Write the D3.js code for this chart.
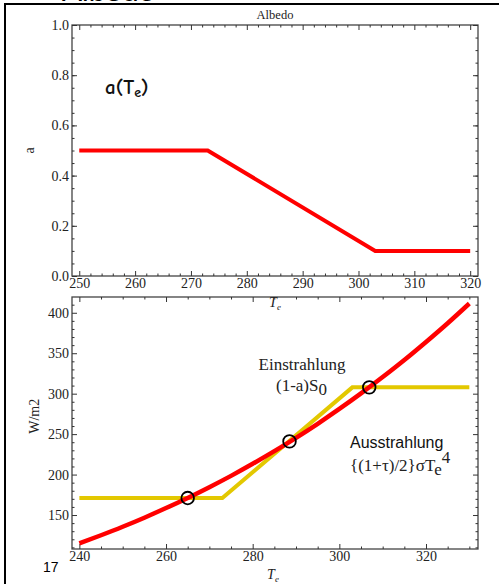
<!doctype html>
<html>
  <head>
    <meta charset="utf-8"/>
    <style>
      body { margin: 0; background: #fff; }
      svg { display: block; }
      .domain { stroke: none; }
      .tick line { stroke: #333; }
    </style>
  </head>
  <body>
    <script src="https://cdn.jsdelivr.net/npm/d3@7/dist/d3.min.js"></script>
    <script>
      // albedo panel
      const albedoT = [250, 273, 303, 320];
      const albedoA = [0.5, 0.5, 0.1, 0.1];
      const albedoXTicks = [250, 260, 270, 280, 290, 300, 310, 320];
      const albedoYTicks = [0.0, 0.2, 0.4, 0.6, 0.8, 1.0];

      // energy balance panel
      const tempT = [240, 245, 250, 255, 260, 265, 270, 275, 280, 285, 290, 295, 300, 305, 310, 315, 320, 325, 330];
      const outW = [115, 125, 135.5, 146.7, 158.6, 171.1, 184.4, 198.4, 213.3, 228.9, 245.4, 262.8, 281.1, 300.3, 320.5, 341.6, 363.9, 387.1, 411.5];
      const inT = [240, 273, 303, 330];
      const inW = [171, 171, 307.8, 307.8];
      const crossT = [265, 288.5, 306.9];
      const crossW = [171, 241, 307.8];
      const energyXTicks = [240, 260, 280, 300, 320];
      const energyYTicks = [150, 200, 250, 300, 350, 400];

      const serif = "'Liberation Serif', 'Times New Roman', Times, serif";
      const sans = "'Liberation Sans', Arial, sans-serif";

      const W = 499, H = 584;
      const svg = d3.select('body').append('svg')
            .attr('width', W).attr('height', H);

      // slide frame and clipped heading above it
      svg.append('text')
        .attr('x', 62).attr('y', 0.5)
        .style('font-family', sans)
        .style('font-size', '30px')
        .attr('fill', '#000')
        .text('Albedo');
      svg.append('path')
        .attr('d', 'M5,' + H + 'V4H' + W)
        .attr('fill', 'none').attr('stroke', '#000').attr('stroke-width', 2);

      const left = 72, right = 478;

      function styleLabels(sel) {
        sel.selectAll('text')
          .style('font-family', serif)
          .style('font-size', '14px')
          .attr('fill', '#222');
      }

      function frame(g, x, y, xMajor, xMinor, yMajor, yMinor, xFmt, yFmt) {
        const [y0, y1] = y.range();
        const [x0, x1] = x.range();
        g.append('rect')
          .attr('x', x0).attr('y', y1)
          .attr('width', x1 - x0).attr('height', y0 - y1)
          .attr('fill', 'none').attr('stroke', '#444').attr('stroke-width', 1.3);
        // labelled axes
        g.append('g').attr('transform', `translate(0,${y0})`)
          .call(d3.axisBottom(x).tickValues(xMajor).tickSize(-5).tickPadding(2).tickFormat(xFmt))
          .call(styleLabels);
        g.append('g').attr('transform', `translate(${x0},0)`)
          .call(d3.axisLeft(y).tickValues(yMajor).tickSize(-5).tickPadding(3).tickFormat(yFmt))
          .call(styleLabels);
        // minor ticks and opposite sides
        g.append('g').attr('transform', `translate(0,${y0})`)
          .call(d3.axisBottom(x).tickValues(xMinor).tickSize(-2.5).tickFormat(''));
        g.append('g').attr('transform', `translate(${x0},0)`)
          .call(d3.axisLeft(y).tickValues(yMinor).tickSize(-2.5).tickFormat(''));
        g.append('g').attr('transform', `translate(0,${y1})`)
          .call(d3.axisTop(x).tickValues(xMajor).tickSize(-5).tickFormat(''));
        g.append('g').attr('transform', `translate(0,${y1})`)
          .call(d3.axisTop(x).tickValues(xMinor).tickSize(-2.5).tickFormat(''));
        g.append('g').attr('transform', `translate(${x1},0)`)
          .call(d3.axisRight(y).tickValues(yMajor).tickSize(-5).tickFormat(''));
        g.append('g').attr('transform', `translate(${x1},0)`)
          .call(d3.axisRight(y).tickValues(yMinor).tickSize(-2.5).tickFormat(''));
      }

      function axisLabelTe(g, x, y) {
        const t = g.append('text')
          .attr('x', x).attr('y', y)
          .attr('text-anchor', 'middle')
          .style('font-family', serif)
          .style('font-style', 'italic')
          .style('font-size', '14px')
          .attr('fill', '#222');
        t.append('tspan').text('T');
        t.append('tspan').attr('dy', 3).style('font-size', '9px').text('e');
      }

      // ---- top panel: albedo ----
      const xA = d3.scaleLinear().domain([248.7, 321.4]).range([left, right]);
      const yA = d3.scaleLinear().domain([0, 1]).range([276, 25]);
      const gA = svg.append('g');

      frame(gA, xA, yA, albedoXTicks, d3.range(248, 322, 2).filter(v => v % 10 && v >= 249),
            albedoYTicks, d3.range(0.05, 1, 0.05), d3.format('d'), d3.format('.1f'));

      gA.append('text')
        .attr('x', (left + right) / 2).attr('y', 19)
        .attr('text-anchor', 'middle')
        .style('font-family', serif).style('font-size', '12.5px')
        .attr('fill', '#222').text('Albedo');

      gA.append('text')
        .attr('transform', `translate(34,${yA(0.5)}) rotate(-90)`)
        .attr('text-anchor', 'middle')
        .style('font-family', serif).style('font-size', '14px')
        .attr('fill', '#222').text('a');

      const aLabel = gA.append('text')
        .attr('x', 105).attr('y', 94)
        .style('font-family', "'Comic Neue', 'DejaVu Sans', sans-serif")
        .style('font-size', '21px').style('font-weight', 'bold')
        .attr('fill', '#111');
      aLabel.append('tspan').text('a(T');
      aLabel.append('tspan').attr('dy', 3).style('font-size', '14px').text('e');
      aLabel.append('tspan').attr('dy', -3).text(')');

      gA.append('path')
        .datum(d3.zip(albedoT, albedoA))
        .attr('d', d3.line().x(d => xA(d[0])).y(d => yA(d[1])))
        .attr('fill', 'none').attr('stroke', '#ff0000').attr('stroke-width', 4);

      // ---- bottom panel: radiation ----
      const xE = d3.scaleLinear().domain([238.3, 332]).range([left, right]);
      const yE = d3.scaleLinear().domain([108, 419.5]).range([549, 297]);
      const gE = svg.append('g');

      frame(gE, xE, yE, energyXTicks, d3.range(240, 332, 5).filter(v => v % 20),
            energyYTicks, d3.range(110, 420, 10).filter(v => v % 50), d3.format('d'), d3.format('d'));

      axisLabelTe(svg, (left + right) / 2, 307);
      axisLabelTe(svg, (left + right) / 2 - 2, 579);

      gE.append('text')
        .attr('transform', `translate(39,${yE(272)}) rotate(-90)`)
        .attr('text-anchor', 'middle')
        .style('font-family', serif).style('font-size', '14px')
        .attr('fill', '#222').text('W/m2');

      gE.append('path')
        .datum(d3.zip(inT, inW))
        .attr('d', d3.line().x(d => xE(d[0])).y(d => yE(d[1])))
        .attr('fill', 'none').attr('stroke', '#e3c800').attr('stroke-width', 4);

      gE.append('path')
        .datum(d3.zip(tempT, outW))
        .attr('d', d3.line().curve(d3.curveMonotoneX).x(d => xE(d[0])).y(d => yE(d[1])))
        .attr('fill', 'none').attr('stroke', '#ff0000').attr('stroke-width', 4.5);

      gE.selectAll('circle.cross')
        .data(d3.zip(crossT, crossW))
        .join('circle')
        .attr('class', 'cross')
        .attr('cx', d => xE(d[0])).attr('cy', d => yE(d[1]))
        .attr('r', 6.3)
        .attr('fill', 'none').attr('stroke', '#000').attr('stroke-width', 1.8);

      gE.append('text')
        .attr('x', 302).attr('y', 370)
        .attr('text-anchor', 'middle')
        .style('font-family', serif).style('font-size', '17px')
        .attr('fill', '#222').text('Einstrahlung');
      const s0 = gE.append('text')
        .attr('x', 276).attr('y', 391)
        .style('font-family', serif).style('font-size', '17px')
        .attr('fill', '#222');
      s0.append('tspan').text('(1-a)S');
      s0.append('tspan').attr('dy', 4).text('0');

      gE.append('text')
        .attr('x', 350).attr('y', 448)
        .style('font-family', sans).style('font-size', '16px')
        .attr('fill', '#111').text('Ausstrahlung');
      const sig = gE.append('text')
        .attr('x', 350).attr('y', 471)
        .style('font-family', serif).style('font-size', '17px')
        .attr('fill', '#222');
      sig.append('tspan').text('{(1+τ)/2}σT');
      sig.append('tspan').attr('dy', 4).text('e');
      sig.append('tspan').attr('dy', -12).text('4');

      svg.append('text')
        .attr('x', 43).attr('y', 572)
        .style('font-family', sans).style('font-size', '14px')
        .attr('fill', '#000').text('17');
    </script>
  </body>
</html>
